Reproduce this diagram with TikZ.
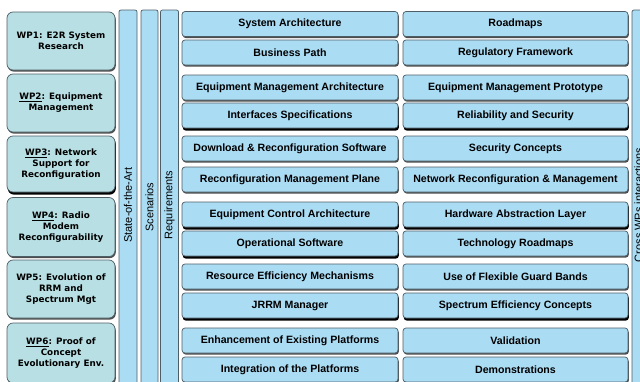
\documentclass[tikz,border=0pt]{standalone}
\usepackage{fontspec}
\setmainfont{Liberation Sans}
\newfontfamily\wpfont{DejaVu Sans}
\usetikzlibrary{shadows}
\definecolor{boxblue}{HTML}{AADCF4}
\definecolor{wpcyan}{HTML}{B8E0E4}
\definecolor{edgegray}{HTML}{4E5E66}
\tikzset{
  task/.style={draw=edgegray, line width=0.7pt, fill=boxblue, rounded corners=3pt,
    minimum height=25pt, inner sep=0pt,
    font=\bfseries\fontsize{10.6}{12}\selectfont,
    drop shadow={shadow xshift=0.8pt, shadow yshift=-1.6pt, fill=black!70, opacity=1}},
  heavy/.style={drop shadow={shadow xshift=0.8pt, shadow yshift=-2.6pt, fill=black, opacity=1}},
  colA/.style={task, minimum width=216pt},
  colB/.style={task, minimum width=225pt},
  wpbox/.style={draw=edgegray, line width=0.7pt, fill=wpcyan, rounded corners=6pt,
    minimum width=108pt, inner sep=0pt, align=center,
    font=\wpfont\bfseries\fontsize{8.8}{11}\selectfont,
    drop shadow={shadow xshift=0.8pt, shadow yshift=-1.6pt, fill=black!70, opacity=1}},
  vbar/.style={draw=edgegray, line width=0.7pt, fill=boxblue, rounded corners=2pt},
  vlabel/.style={rotate=90, font=\fontsize{11}{13}\selectfont, inner sep=0pt}
}
\begin{document}
\begin{tikzpicture}[x=1pt, y=-1pt]
\useasboundingbox (0,0) rectangle (640,381);
\clip (0,0) rectangle (640,381);
\fill[white] (0,0) rectangle (640,381);

% WP boxes
\node[wpbox, minimum height=58pt] (wp1) at (61,41) {WP1: E2R System\\Research};
\node[wpbox, minimum height=58pt] (wp2) at (61,103) {\underline{WP2}: Equipment\\Management};
\node[wpbox, heavy, minimum height=56pt] (wp3) at (61,164) {\underline{WP3}: Network\\Support for\\Reconfiguration};
\node[wpbox, minimum height=59pt] (wp4) at (61,227) {\underline{WP4}: Radio\\Modem\\Reconfigurability};
\node[wpbox, minimum height=58pt] (wp5) at (61,289) {WP5: Evolution of\\RRM and\\Spectrum Mgt};
\node[wpbox, minimum height=60pt] (wp6) at (61,353) {\underline{WP6}: Proof of\\Concept\\Evolutionary Env.};

% vertical bars
\node[vbar, minimum width=18pt, minimum height=380pt, inner sep=0pt] (bsota) at (128,200) {};
\node[vbar, minimum width=17pt, minimum height=380pt, inner sep=0pt] (bscen) at (149.5,200) {};
\node[vbar, minimum width=18pt, minimum height=380pt, inner sep=0pt] (breq) at (169.5,200) {};
\node[vbar, minimum width=20pt, minimum height=380pt, inner sep=0pt] (bcross) at (642,200) {};
\node[vlabel] (lsota) at (128,205) {State-of-the-Art};
\node[vlabel] (lscen) at (149.5,207) {Scenarios};
\node[vlabel] (lreq) at (169.5,205) {Requirements};
\node[vlabel] (lcross) at (638.5,205) {Cross WPs interactions};

% column A
\node[colA] (a1) at (290,24) {System Architecture};
\node[colA] (a2) at (290,52.5) {Business Path};
\node[colA] (a3) at (290,87.5) {Equipment Management Architecture};
\node[colA, heavy] (a4) at (290,115.5) {Interfaces Specifications};
\node[colA] (a5) at (290,148.5) {Download \& Reconfiguration Software};
\node[colA] (a6) at (290,179.5) {Reconfiguration Management Plane};
\node[colA, heavy] (a7) at (290,214.5) {Equipment Control Architecture};
\node[colA, heavy] (a8) at (290,243.5) {Operational Software};
\node[colA] (a9) at (290,276.5) {Resource Efficiency Mechanisms};
\node[colA, heavy] (a10) at (290,305.5) {JRRM Manager};
\node[colA] (a11) at (290,340.5) {Enhancement of Existing Platforms};
\node[colA] (a12) at (290,369.5) {Integration of the Platforms};

% column B
\node[colB] (b1) at (515.5,24) {Roadmaps};
\node[colB] (b2) at (515.5,52.5) {Regulatory Framework};
\node[colB] (b3) at (515.5,87.5) {Equipment Management Prototype};
\node[colB, heavy] (b4) at (515.5,115.5) {Reliability and Security};
\node[colB] (b5) at (515.5,148.5) {Security Concepts};
\node[colB] (b6) at (515.5,179.5) {Network Reconfiguration \& Management};
\node[colB, heavy] (b7) at (515.5,214.5) {Hardware Abstraction Layer};
\node[colB] (b8) at (515.5,243.5) {Technology Roadmaps};
\node[colB] (b9) at (515.5,276.5) {Use of Flexible Guard Bands};
\node[colB, heavy] (b10) at (515.5,305.5) {Spectrum Efficiency Concepts};
\node[colB] (b11) at (515.5,340.5) {Validation};
\node[colB] (b12) at (515.5,369.5) {Demonstrations};
\end{tikzpicture}
\end{document}
